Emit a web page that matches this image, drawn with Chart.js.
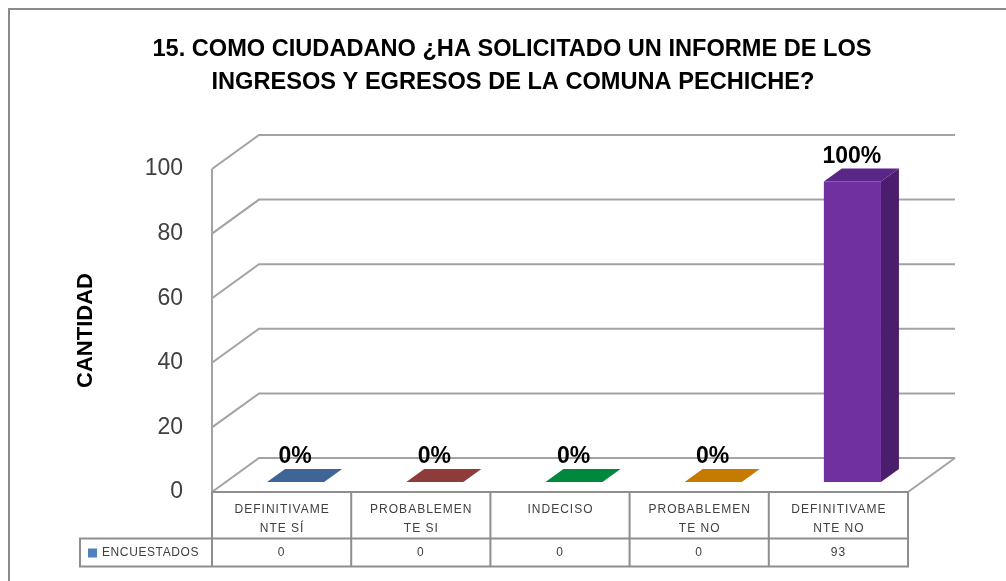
<!DOCTYPE html>
<html><head><meta charset="utf-8">
<script src="https://cdn.jsdelivr.net/npm/chart.js@4.4.1/dist/chart.umd.min.js"></script>
<style>html,body{margin:0;padding:0;background:#fff;overflow:hidden}#wrap{width:1006px;height:581px;position:relative}canvas{display:block}</style>
</head><body><div id="wrap"><canvas id="c" width="1006" height="581"></canvas></div>
<script>
const titleLines = ['15. COMO CIUDADANO ¿HA SOLICITADO UN INFORME DE LOS', 'INGRESOS Y EGRESOS DE LA COMUNA PECHICHE?'];
const categories = [['DEFINITIVAME', 'NTE SÍ'], ['PROBABLEMEN', 'TE SI'], ['INDECISO'], ['PROBABLEMEN', 'TE NO'], ['DEFINITIVAME', 'NTE NO']];
const seriesName = 'ENCUESTADOS';
const encuestados = [0, 0, 0, 0, 93];
const percentLabels = ['0%', '0%', '0%', '0%', '100%'];
const yTicks = [0, 20, 40, 60, 80, 100];
const yTitle = 'CANTIDAD';

const frontColors = ['#4F81BD', '#B24A4A', '#00AB4E', '#F69900', '#7030A0'];
const topColors = ['#3E6596', '#8E3B3B', '#00893E', '#C57A00', '#5A2688'];
const sideColors = ['#345480', '#763131', '#007234', '#A36500', '#4A1E6C'];

const FONT = "'Liberation Sans', Arial, sans-serif";
const G = {bx: 14, by: -10, dx: 18, dy: -13, wx: 47, wy: -34};
const GRID = '#a3a3a3';
const TABLE = { rowDiv: 538.5, bottom: 566.5, legendLeft: 80 };

const excel3d = {
  id: 'excel3d',
  beforeDraw(chart) {
    const ctx = chart.ctx;
    ctx.save();
    ctx.fillStyle = '#fff';
    ctx.fillRect(0, 0, chart.width, chart.height);
    ctx.strokeStyle = '#8a8a8a';
    ctx.lineWidth = 2;
    ctx.beginPath();
    ctx.moveTo(9, chart.height); ctx.lineTo(9, 9); ctx.lineTo(chart.width, 9);
    ctx.stroke();
    ctx.fillStyle = '#000';
    ctx.font = 'bold 23.6px ' + FONT;
    ctx.textAlign = 'center';
    ctx.textBaseline = 'alphabetic';
    ctx.fillText(titleLines[0], 512, 56);
    ctx.fillText(titleLines[1], 513, 88.5);
    ctx.restore();
  },
  beforeDatasetsDraw(chart) {
    const ctx = chart.ctx, a = chart.chartArea, ys = chart.scales.y;
    ctx.save();
    ctx.strokeStyle = GRID;
    ctx.lineWidth = 2;
    ctx.beginPath();
    yTicks.forEach(v => {
      const yf = ys.getPixelForValue(v);
      ctx.moveTo(a.left, yf);
      ctx.lineTo(a.left + G.wx, yf + G.wy);
      ctx.lineTo(a.right + G.wx, yf + G.wy);
    });
    const y0 = ys.getPixelForValue(0);
    ctx.moveTo(a.right, y0);
    ctx.lineTo(a.right + G.wx, y0 + G.wy);
    ctx.moveTo(a.left, ys.getPixelForValue(yTicks[yTicks.length - 1]));
    ctx.lineTo(a.left, y0);
    ctx.stroke();
    ctx.restore();
    ctx.save();
    ctx.translate(G.bx, G.by);
  },
  afterDatasetsDraw(chart) {
    const ctx = chart.ctx;
    ctx.restore();
    const meta = chart.getDatasetMeta(0);
    ctx.save();
    meta.data.forEach((el, i) => {
      const p = el.getProps(['x', 'y', 'base', 'width'], true);
      const l = p.x - p.width / 2 + G.bx, r = p.x + p.width / 2 + G.bx;
      const t = p.y + G.by, b = p.base + G.by;
      if (encuestados[i] > 0) {
        ctx.fillStyle = sideColors[i];
        ctx.beginPath();
        ctx.moveTo(r, t); ctx.lineTo(r + G.dx, t + G.dy); ctx.lineTo(r + G.dx, b + G.dy); ctx.lineTo(r, b);
        ctx.closePath(); ctx.fill();
      }
      ctx.fillStyle = topColors[i];
      ctx.beginPath();
      ctx.moveTo(l, t); ctx.lineTo(r, t); ctx.lineTo(r + G.dx, t + G.dy); ctx.lineTo(l + G.dx, t + G.dy);
      ctx.closePath(); ctx.fill();
      ctx.fillStyle = '#000';
      ctx.font = 'bold 23px ' + FONT;
      ctx.textAlign = 'center';
      ctx.textBaseline = 'alphabetic';
      ctx.fillText(percentLabels[i], p.x + 13.5, p.y - 29);
    });
    ctx.restore();
  },
  afterDraw(chart) {
    const ctx = chart.ctx, a = chart.chartArea, xs = chart.scales.x;
    const n = categories.length;
    const cw = (a.right - a.left) / n;
    ctx.save();
    ctx.strokeStyle = '#8e8e8e';
    ctx.lineWidth = 2;
    ctx.beginPath();
    ctx.moveTo(a.left, a.bottom); ctx.lineTo(a.right, a.bottom);
    ctx.moveTo(TABLE.legendLeft, TABLE.rowDiv); ctx.lineTo(a.right, TABLE.rowDiv);
    ctx.moveTo(TABLE.legendLeft, TABLE.bottom); ctx.lineTo(a.right, TABLE.bottom);
    ctx.moveTo(TABLE.legendLeft, TABLE.rowDiv - 1); ctx.lineTo(TABLE.legendLeft, TABLE.bottom + 1);
    for (let i = 0; i <= n; i++) {
      const x = a.left + i * cw;
      ctx.moveTo(x, a.bottom - 1); ctx.lineTo(x, TABLE.bottom + 1);
    }
    ctx.stroke();
    ctx.fillStyle = '#404040';
    ctx.font = '12px ' + FONT;
    ctx.letterSpacing = '1px';
    ctx.textAlign = 'center';
    ctx.textBaseline = 'middle';
    categories.forEach((lines, i) => {
      const cx = xs.getPixelForValue(i);
      lines.forEach((ln, j) => ctx.fillText(ln, cx + 0.5, 510 + j * 18.5));
      ctx.fillText(String(encuestados[i]), cx, 553);
    });
    ctx.fillStyle = frontColors[0];
    ctx.fillRect(88, 548.5, 9, 9);
    ctx.fillStyle = '#404040';
    ctx.textAlign = 'left';
    ctx.letterSpacing = '0.6px';
    ctx.fillText(seriesName, 102, 553);
    ctx.restore();
  }
};

new Chart(document.getElementById('c'), {
  type: 'bar',
  data: {
    labels: categories,
    datasets: [{
      label: seriesName,
      data: encuestados,
      backgroundColor: frontColors,
      borderWidth: 0,
      categoryPercentage: 0.82,
      barPercentage: 0.5
    }]
  },
  options: {
    responsive: false,
    animation: false,
    devicePixelRatio: 1,
    layout: { padding: { top: 169, right: 98, bottom: 89, left: 0 } },
    plugins: { legend: { display: false }, title: { display: false }, tooltip: { enabled: false } },
    scales: {
      x: { display: false },
      y: {
        min: 0, max: 100,
        afterBuildTicks(s) { s.ticks = yTicks.map(v => ({ value: v })); },
        afterFit(s) { s.width = 212; },
        grid: { display: false, drawTicks: false },
        border: { display: false },
        ticks: { padding: 29, color: '#404040', font: { family: FONT, size: 23 } },
        title: { display: true, text: yTitle, color: '#000', font: { family: FONT, size: 22, weight: 'bold' }, padding: { top: 73, bottom: 0 } }
      }
    }
  },
  plugins: [excel3d]
});
</script></body></html>
